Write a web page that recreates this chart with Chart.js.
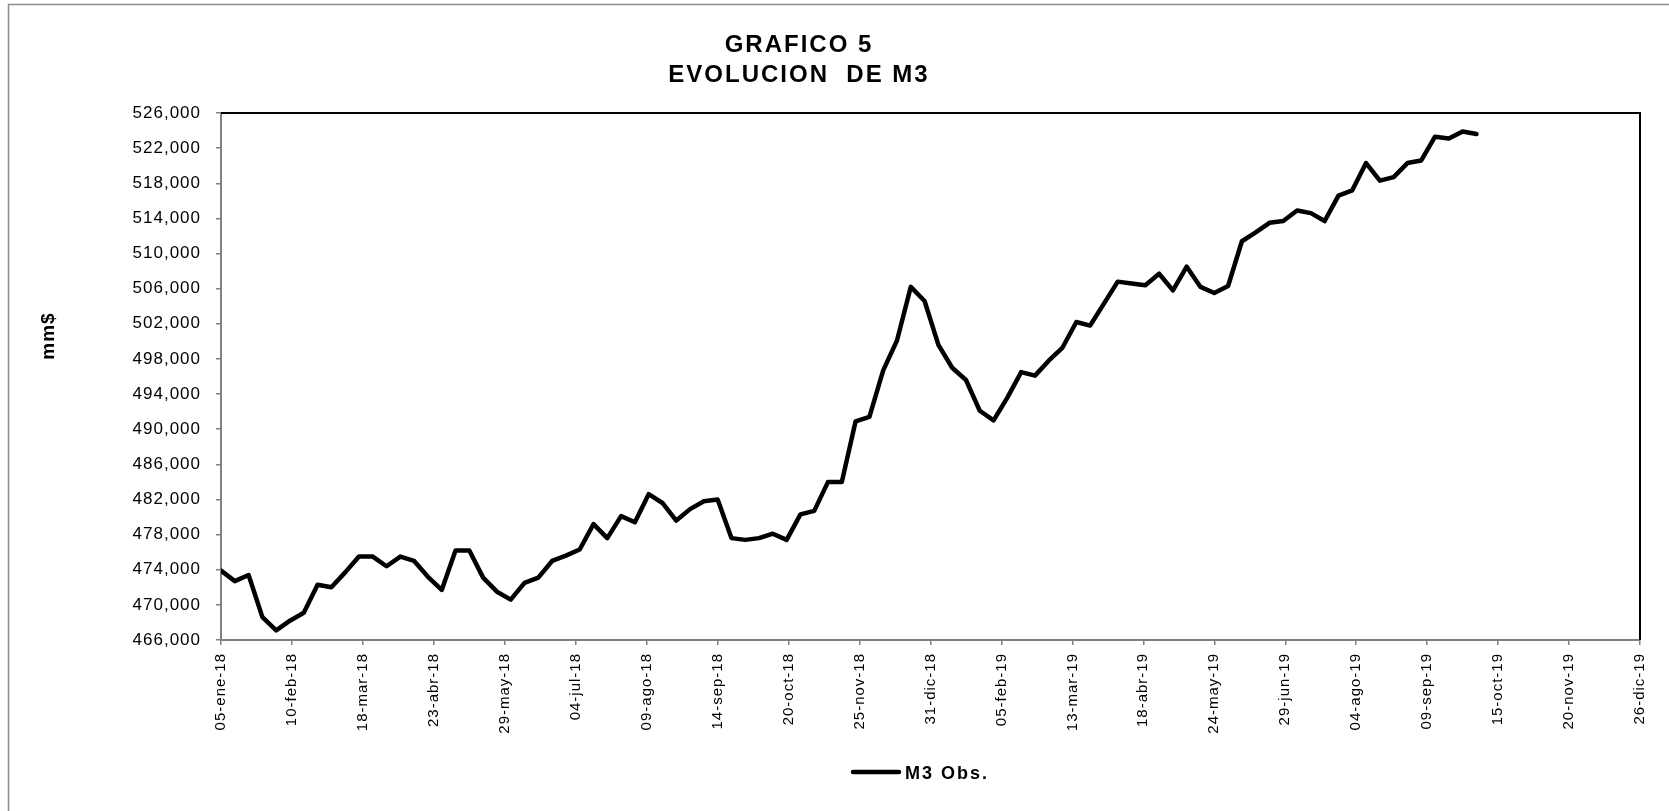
<!DOCTYPE html>
<html lang="es">
<head>
<meta charset="utf-8">
<title>Grafico 5 - Evolucion de M3</title>
<script src="https://cdn.jsdelivr.net/npm/chart.js@4.4.1/dist/chart.umd.min.js"></script>
<style>
  html, body { margin: 0; padding: 0; background: #fff; }
  canvas { display: block; }
</style>
</head>
<body>
<canvas id="graficoM3" width="1669" height="811"></canvas>
<script>
// --- DATOS ---
// Etiquetas del eje X (una cada 36 dias, desde 05-ene-18)
const etiquetasX = [
    '05-ene-18', '10-feb-18', '18-mar-18', '23-abr-18', '29-may-18', '04-jul-18', '09-ago-18',
    '14-sep-18', '20-oct-18', '25-nov-18', '31-dic-18', '05-feb-19', '13-mar-19', '18-abr-19',
    '24-may-19', '29-jun-19', '04-ago-19', '09-sep-19', '15-oct-19', '20-nov-19', '26-dic-19'
];
const diasEntreEtiquetas = 36;
const diasEntreObs = 7; // observaciones semanales, la primera el 05-ene-18

// M3 observado (mm$), semana a semana
const m3Obs = [
    473900, 472700, 473400, 468600, 467100, 468200, 469100, 472300, 472000, 473700,
    475500, 475500, 474400, 475500, 475000, 473200, 471700, 476200, 476200, 473100,
    471500, 470600, 472500, 473100, 475000, 475600, 476300, 479200, 477600, 480100,
    479400, 482600, 481600, 479600, 480900, 481800, 482000, 477600, 477400, 477600,
    478100, 477400, 480300, 480700, 484000, 484000, 490900, 491400, 496700, 500100,
    506200, 504600, 499600, 497000, 495600, 492100, 491000, 493600, 496500, 496100,
    497800, 499300, 502200, 501800, 504300, 506800, 506600, 506400, 507700, 505800,
    508500, 506200, 505500, 506300, 511400, 512400, 513500, 513700, 514900, 514600,
    513700, 516600, 517200, 520300, 518300, 518700, 520300, 520600, 523300, 523100,
    523900, 523600
];

// Eje Y
const yMin = 466000;
const yMax = 526000;
const yPaso = 4000;

const tituloLineas = ['GRAFICO 5', 'EVOLUCION  DE M3'];
const tituloEjeY = 'mm$';
const nombreSerie = 'M3 Obs.';

const FUENTE = '"Liberation Sans", Arial, sans-serif';
const GRIS_EJE = '#808080';

// --- PLUGIN: marco, titulo, titulo del eje Y y leyenda ---
const decoracion = {
    id: 'decoracion',
    beforeDraw(chart) {
        const ctx = chart.ctx;
        ctx.save();
        ctx.fillStyle = '#fff';
        ctx.fillRect(0, 0, chart.width, chart.height);
        ctx.restore();
        // las etiquetas de Excel salen algo espaciadas
        ctx.letterSpacing = '1px';
    },
    beforeDatasetsDraw(chart) {
        const { ctx, chartArea } = chart;
        ctx.save();
        ctx.strokeStyle = '#000';
        ctx.lineWidth = 2;
        ctx.beginPath();
        ctx.moveTo(chartArea.left, chartArea.top);
        ctx.lineTo(chartArea.right, chartArea.top);
        ctx.lineTo(chartArea.right, chartArea.bottom);
        ctx.stroke();
        ctx.restore();
    },
    afterDraw(chart) {
        const ctx = chart.ctx;
        ctx.save();

        // marco exterior (solo se ven arriba y a la izquierda)
        ctx.strokeStyle = '#8c8c8c';
        ctx.lineWidth = 1.5;
        ctx.beginPath();
        ctx.moveTo(chart.width, 4.5);
        ctx.lineTo(8.5, 4.5);
        ctx.lineTo(8.5, chart.height);
        ctx.stroke();

        // titulo
        ctx.fillStyle = '#000';
        ctx.textAlign = 'center';
        ctx.textBaseline = 'alphabetic';
        ctx.font = 'bold 24px ' + FUENTE;
        ctx.letterSpacing = '2px';
        ctx.fillText(tituloLineas[0], 799, 52);
        ctx.fillText(tituloLineas[1], 799, 82);

        // titulo del eje Y
        ctx.save();
        ctx.translate(49, 336);
        ctx.rotate(-Math.PI / 2);
        ctx.font = 'bold 19px ' + FUENTE;
        ctx.letterSpacing = '1px';
        ctx.textBaseline = 'middle';
        ctx.fillText(tituloEjeY, 0, 0);
        ctx.restore();

        // leyenda
        ctx.strokeStyle = '#000';
        ctx.lineWidth = 4.5;
        ctx.lineCap = 'round';
        ctx.beginPath();
        ctx.moveTo(853, 772);
        ctx.lineTo(899, 772);
        ctx.stroke();
        ctx.textAlign = 'left';
        ctx.textBaseline = 'alphabetic';
        ctx.font = 'bold 18px ' + FUENTE;
        ctx.letterSpacing = '2px';
        ctx.fillText(nombreSerie, 905, 779);

        ctx.restore();
        ctx.letterSpacing = '0px';
    }
};

function renderGrafico() {
    const ctx = document.getElementById('graficoM3').getContext('2d');
    const puntos = m3Obs.map((v, i) => ({ x: i * diasEntreObs, y: v }));
    const xMax = (etiquetasX.length - 1) * diasEntreEtiquetas;

    new Chart(ctx, {
        type: 'line',
        data: {
            datasets: [{
                label: nombreSerie,
                data: puntos,
                borderColor: '#000',
                backgroundColor: '#000',
                borderWidth: 4.5,
                borderJoinStyle: 'round',
                borderCapStyle: 'round',
                pointRadius: 0,
                tension: 0,
                fill: false
            }]
        },
        options: {
            responsive: false,
            animation: false,
            events: [],
            layout: { padding: { top: 113, right: 29, bottom: 0, left: 0 } },
            plugins: {
                legend: { display: false },
                title: { display: false },
                tooltip: { enabled: false }
            },
            scales: {
                x: {
                    type: 'linear',
                    min: 0,
                    max: xMax,
                    afterBuildTicks: (scale) => {
                        scale.ticks = etiquetasX.map((_, k) => ({ value: k * diasEntreEtiquetas }));
                    },
                    afterFit: (scale) => { scale.height = 171; },
                    ticks: {
                        autoSkip: false,
                        minRotation: 90,
                        maxRotation: 90,
                        padding: 8,
                        color: '#000',
                        font: { family: FUENTE, size: 15 },
                        callback: (v) => etiquetasX[Math.round(v / diasEntreEtiquetas)]
                    },
                    grid: {
                        drawOnChartArea: false,
                        drawTicks: true,
                        tickLength: 5,
                        color: GRIS_EJE,
                        lineWidth: 1.5
                    },
                    border: { display: true, color: GRIS_EJE, width: 2 }
                },
                y: {
                    min: yMin,
                    max: yMax,
                    afterFit: (scale) => { scale.width = 221; },
                    ticks: {
                        stepSize: yPaso,
                        padding: 15,
                        color: '#000',
                        font: { family: FUENTE, size: 17 },
                        callback: (v) => v.toLocaleString('en-US')
                    },
                    grid: {
                        drawOnChartArea: false,
                        drawTicks: true,
                        tickLength: 5,
                        color: GRIS_EJE,
                        lineWidth: 1.5
                    },
                    border: { display: true, color: GRIS_EJE, width: 2 }
                }
            }
        },
        plugins: [decoracion]
    });
}

renderGrafico();
</script>
</body>
</html>
